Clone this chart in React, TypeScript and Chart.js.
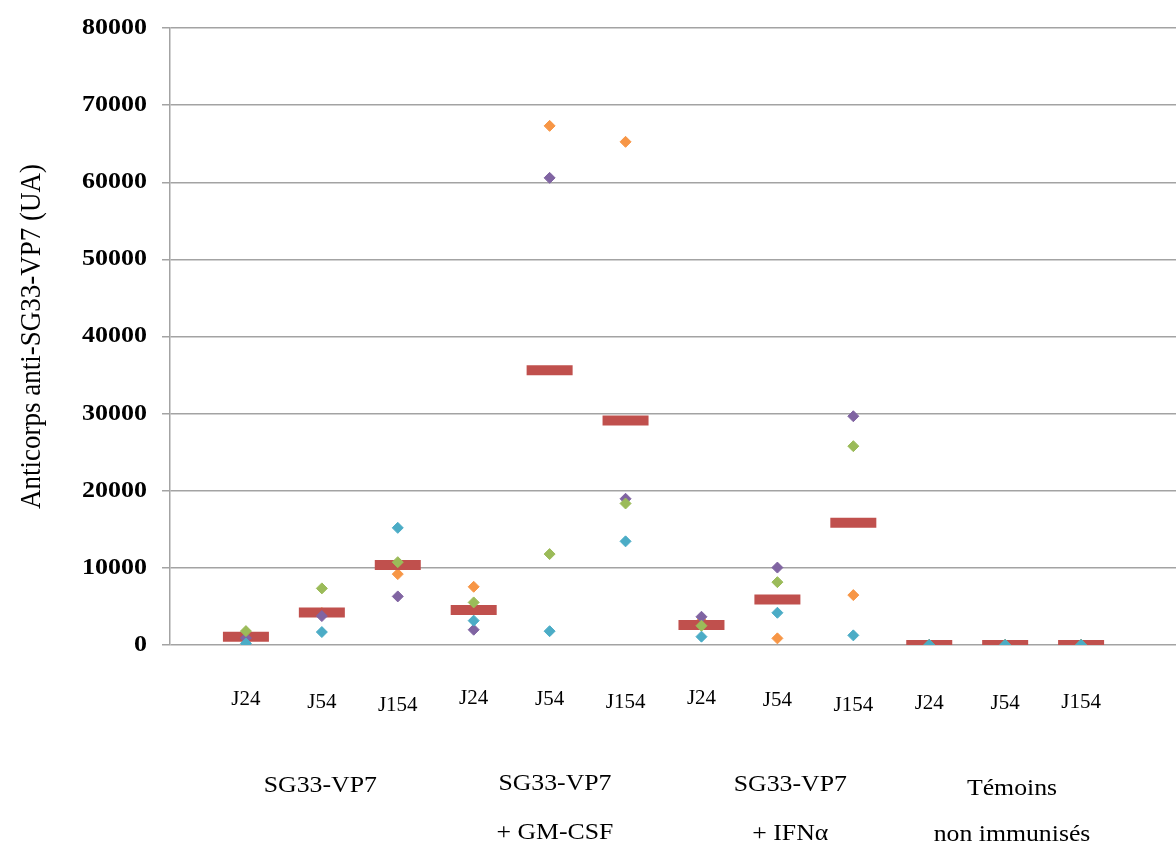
import React, { useEffect, useRef } from "react";
import { Chart, registerables } from "chart.js";

Chart.register(...registerables);

// Sampling days for each group (one column per day)
const DAYS = ["J24", "J54", "J154", "J24", "J54", "J154", "J24", "J54", "J154", "J24", "J54", "J154"];

// Immunisation groups, three columns each
const GROUPS = [
  ["SG33-VP7"],
  ["SG33-VP7", "+ GM-CSF"],
  ["SG33-VP7", "+ IFNα"],
  ["Témoins", "non immunisés"],
];

// Individual animals (anti-SG33-VP7 antibody titres, UA)
const ANIMAL_1 = [1380, 4150, 9190, 7550, 67310, 65240, 3120, 860, 6470, 0, 0, 0];
const ANIMAL_2 = [900, 3750, 6300, 1980, 60570, 18960, 3660, 10040, 29660, 0, 0, 0];
const ANIMAL_3 = [1800, 7340, 10740, 5520, 11790, 18350, 2500, 8150, 25780, 0, 0, 0];
const ANIMAL_4 = [200, 1680, 15190, 3160, 1790, 13440, 1080, 4180, 1250, 0, 0, 0];

// Group mean per column
const MEANS = [1070, 4230, 10360, 4530, 35610, 29100, 2590, 5900, 15860, 0, 0, 0];

const Y_MIN = 0;
const Y_MAX = 80000;
const Y_STEP = 10000;

const AXIS_TITLE = "Anticorps anti-SG33-VP7 (UA)";

// Layout of the hand-placed labels under the plot
const DAY_LABEL_Y = [699, 702, 705, 698, 699, 702, 698, 700, 705, 703, 703, 702];
const GROUP_X = [1.98, 5.07, 8.17, 11.09];
const GROUP_LINE1_Y = [792, 790, 791, 795];
const GROUP_LINE2_Y = [0, 839, 840, 841];

const SERIF = "'Liberation Serif', 'Times New Roman', serif";

const toPoints = (vals: number[]) => vals.map((v, i) => ({ x: i + 1, y: v }));

const labelPlugin = {
  id: "serifLabels",
  afterDraw(chart: any) {
    const { ctx } = chart;
    const xs = chart.scales.x;
    const ys = chart.scales.y;
    ctx.save();
    ctx.fillStyle = "#000";

    // y tick labels
    ctx.font = `bold 23px ${SERIF}`;
    ctx.textAlign = "right";
    ctx.textBaseline = "middle";
    ys.ticks.forEach((t: any) => {
      const py = ys.getPixelForValue(t.value);
      ctx.save();
      ctx.translate(147, py);
      ctx.scale(1.13, 1);
      ctx.fillText(String(t.value), 0, 0);
      ctx.restore();
    });

    // y axis title
    ctx.save();
    ctx.font = `27px ${SERIF}`;
    ctx.textAlign = "center";
    ctx.textBaseline = "alphabetic";
    ctx.translate(40, (chart.chartArea.top + chart.chartArea.bottom) / 2);
    ctx.rotate(-Math.PI / 2);
    ctx.scale(1, 1.1);
    ctx.fillText(AXIS_TITLE, 0, 0);
    ctx.restore();

    // day labels
    ctx.font = `21px ${SERIF}`;
    ctx.textAlign = "center";
    ctx.textBaseline = "middle";
    DAYS.forEach((d, i) => {
      ctx.fillText(d, xs.getPixelForValue(i + 1), DAY_LABEL_Y[i]);
    });

    // group labels
    ctx.font = `23px ${SERIF}`;
    ctx.textBaseline = "alphabetic";
    GROUPS.forEach((lines, g) => {
      const px = xs.getPixelForValue(GROUP_X[g]);
      lines.forEach((line, k) => {
        ctx.save();
        ctx.translate(px, k === 0 ? GROUP_LINE1_Y[g] : GROUP_LINE2_Y[g]);
        ctx.scale(1.12, 1);
        ctx.fillText(line, 0, 0);
        ctx.restore();
      });
    });

    ctx.restore();
  },
};

const diamond = (label: string, vals: number[], color: string) => ({
  label,
  data: toPoints(vals),
  pointStyle: "rectRot",
  pointRadius: 5.5,
  borderWidth: 1,
  backgroundColor: color,
  borderColor: color,
  showLine: false,
});

export default function App() {
  const canvasRef = useRef<HTMLCanvasElement | null>(null);

  useEffect(() => {
    document.body.style.margin = "0";
    const canvas = canvasRef.current;
    if (!canvas) return;

    const chart = new Chart(canvas, {
      type: "scatter",
      data: {
        datasets: [
          diamond("Animal 4", ANIMAL_4, "#4BACC6"),
          diamond("Animal 3", ANIMAL_3, "#9BBB59"),
          diamond("Animal 2", ANIMAL_2, "#8064A2"),
          {
            label: "Moyenne",
            data: toPoints(MEANS),
            pointStyle: "line",
            pointRadius: 23,
            borderWidth: 10,
            borderColor: "#C0504D",
            backgroundColor: "#C0504D",
            showLine: false,
          } as any,
          diamond("Animal 1", ANIMAL_1, "#F79646"),
        ] as any,
      },
      options: {
        animation: false,
        responsive: true,
        maintainAspectRatio: false,
        events: [],
        layout: { autoPadding: false, padding: { top: 28, right: 0, bottom: 198, left: 0 } },
        plugins: {
          legend: { display: false },
          tooltip: { enabled: false },
        },
        scales: {
          x: {
            type: "linear",
            display: false,
            min: 0,
            max: 13.25,
          },
          y: {
            min: Y_MIN,
            max: Y_MAX,
            ticks: { stepSize: Y_STEP, display: false },
            grid: {
              color: "#a3a3a3",
              lineWidth: 1.5,
              drawTicks: true,
              tickLength: 8,
              tickColor: "#a3a3a3",
            },
            border: { display: true, color: "#a3a3a3", width: 1.5 },
            afterFit(scale: any) {
              scale.width = 170;
            },
          },
        },
      } as any,
      plugins: [labelPlugin],
    });

    return () => chart.destroy();
  }, []);

  return (
    <div style={{ position: "relative", width: "1176px", height: "843px", background: "#fff" }}>
      <canvas ref={canvasRef} />
    </div>
  );
}
